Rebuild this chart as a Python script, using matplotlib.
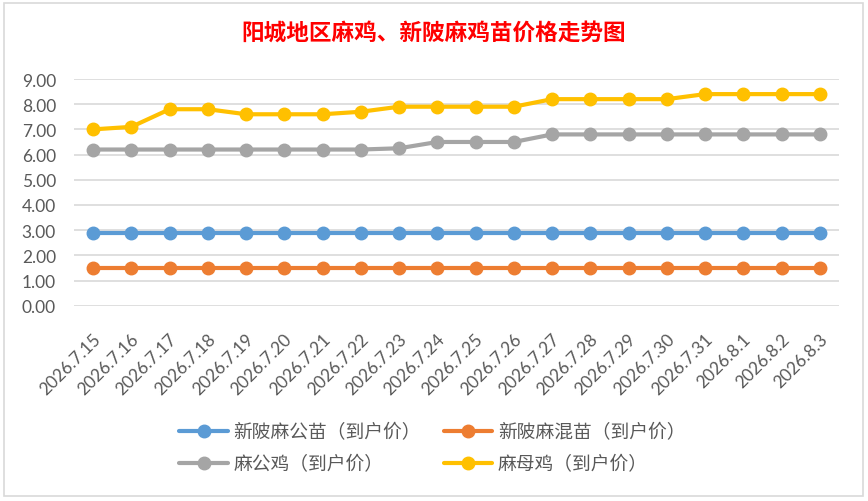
import matplotlib
matplotlib.use("Agg")
import matplotlib.pyplot as plt
from matplotlib.patches import Rectangle
from matplotlib.transforms import ScaledTranslation

plt.rcParams['font.family'] = ['Noto Sans CJK SC', 'DejaVu Sans']

dates = ["2026.7.15", "2026.7.16", "2026.7.17", "2026.7.18", "2026.7.19",
         "2026.7.20", "2026.7.21", "2026.7.22", "2026.7.23", "2026.7.24",
         "2026.7.25", "2026.7.26", "2026.7.27", "2026.7.28", "2026.7.29",
         "2026.7.30", "2026.7.31", "2026.8.1", "2026.8.2", "2026.8.3"]
xinling_gongmiao = [2.9] * 20
xinling_hunmiao = [1.5] * 20
ma_gongji = [6.2, 6.2, 6.2, 6.2, 6.2, 6.2, 6.2, 6.2, 6.25, 6.5,
             6.5, 6.5, 6.8, 6.8, 6.8, 6.8, 6.8, 6.8, 6.8, 6.8]
ma_muji = [7.0, 7.1, 7.8, 7.8, 7.6, 7.6, 7.6, 7.7, 7.9, 7.9,
           7.9, 7.9, 8.2, 8.2, 8.2, 8.2, 8.4, 8.4, 8.4, 8.4]
series_names = ["新陂麻公苗（到户价）", "新陂麻混苗（到户价）", "麻公鸡（到户价）", "麻母鸡（到户价）"]
yticks = [0, 1, 2, 3, 4, 5, 6, 7, 8, 9]
title = "阳城地区麻鸡、新陂麻鸡苗价格走势图"

colors = ["#5B9BD5", "#ED7D31", "#A5A5A5", "#FFC000"]

fig = plt.figure(figsize=(8.68, 5.02), dpi=100)
fig.patches.append(Rectangle((3.5/868, 1 - 497/502), (863-3.5)/868, (497-3.5)/502,
                             transform=fig.transFigure, fill=False,
                             edgecolor="#D9D9D9", linewidth=1.2))
ax = fig.add_axes([74/868, 1 - 306.7/502, (839-74)/868, (306.7-80)/502])

x = list(range(len(dates)))
data = [xinling_gongmiao, xinling_hunmiao, ma_gongji, ma_muji]
handles = []
for vals, c, name in zip(data, colors, series_names):
    h, = ax.plot(x, vals, color=c, linewidth=3, marker='o', markersize=9,
                 label=name, solid_capstyle='round', zorder=3)
    handles.append(h)

ax.set_xlim(-0.5, len(dates) - 0.5)
ax.set_ylim(0, 9)
ax.set_yticks(yticks)
ax.set_yticklabels([f"{v:.2f}" for v in yticks])
ax.set_xticks(x)
ax.set_xticklabels(dates, rotation=45, ha='right', va='center', rotation_mode='anchor')
ax.grid(axis='y', color="#D9D9D9", linewidth=1.2)
ax.set_axisbelow(True)
for s in ax.spines.values():
    s.set_visible(False)
ax.tick_params(axis='both', length=0, labelsize=12.5, colors="#595959")
ax.tick_params(axis='y', pad=13)
ax.tick_params(axis='x', pad=22)
shift = ScaledTranslation(5/100, 0, fig.dpi_scale_trans)
for lab in ax.get_xticklabels():
    lab.set_transform(lab.get_transform() + shift)
for lab in ax.get_xticklabels() + ax.get_yticklabels():
    lab.set_family(['Lato', 'DejaVu Sans'])

fig.text(0.5, 1 - 33/502, title, color="#FF0000", fontsize=16.3, fontweight='bold',
         ha='center', va='center')

order = [0, 2, 1, 3]
fig.legend(handles=[handles[i] for i in order], labels=[series_names[i] for i in order],
           loc='center', bbox_to_anchor=(0.498, 1 - 449/502), ncol=2, frameon=False,
           fontsize=13.5, labelcolor="#595959", handlelength=2.6,
           columnspacing=1.2, handletextpad=0.3, labelspacing=0.6)

fig.savefig("out.png", dpi=100)
